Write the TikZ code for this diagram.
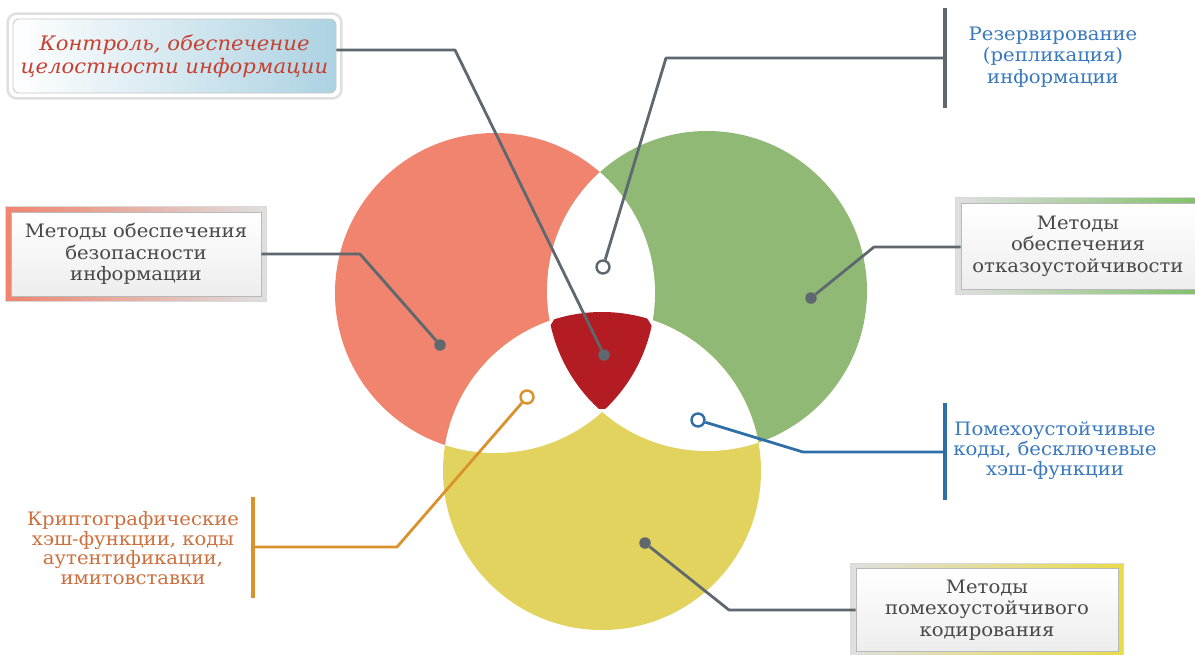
\documentclass[tikz,border=0pt]{standalone}
\usepackage{fontspec}
\setmainfont{DejaVu Serif}[FakeStretch=1.06]
\usetikzlibrary{backgrounds,fit}

\definecolor{salmon}{RGB}{240,132,110}
\definecolor{leaf}{RGB}{143,185,117}
\definecolor{mustard}{RGB}{226,211,94}
\definecolor{crimson}{RGB}{178,28,34}
\definecolor{linegray}{RGB}{94,104,110}
\definecolor{textgray}{RGB}{72,72,72}
\definecolor{skyblue}{RGB}{58,120,189}
\definecolor{deepblue}{RGB}{45,111,166}
\definecolor{amber}{RGB}{218,146,45}
\definecolor{rust}{RGB}{204,112,62}
\definecolor{brick}{RGB}{200,64,48}
\definecolor{pale}{RGB}{172,210,226}

\tikzset{
  lbl/.style={align=center, font=\fontsize{18.5}{21.5}\selectfont, inner sep=0pt},
  box/.style={lbl, text=textgray, draw=gray!55, line width=0.8pt,
    top color=white, bottom color=gray!14, minimum height=84pt},
  frame/.style={draw=gray!30, line width=0.8pt, inner sep=5pt},
  conn/.style={line width=2.8pt, line join=round, draw=linegray},
  bar/.style={line width=3.2pt},
  dot/.style={circle, fill=linegray, inner sep=0pt, minimum size=11.5pt},
  ring/.style={circle, draw, fill=white, line width=2.4pt, inner sep=0pt, minimum size=13pt},
}

\begin{document}
\begin{tikzpicture}[x=1pt,y=-1pt]
\useasboundingbox (0,0) rectangle (1195,654);
\clip (0,0) rectangle (1195,654);
\begin{scope}[on background layer]
  \fill[white] (0,0) rectangle (1195,654);
\end{scope}

% circle centres
\coordinate (cR) at (495,293);
\coordinate (cG) at (707,291);
\coordinate (cY) at (602,471);
\coordinate (cM) at (601,352);

% three coloured discs
\fill[salmon]  (cR) circle[radius=160];
\fill[leaf]    (cG) circle[radius=160];
\fill[mustard] (cY) circle[radius=159];
% pairwise overlaps left blank
\begin{scope}\clip (cR) circle[radius=160]; \fill[white] (cG) circle[radius=160]; \end{scope}
\begin{scope}\clip (cR) circle[radius=160]; \fill[white] (cY) circle[radius=159]; \end{scope}
\begin{scope}\clip (cG) circle[radius=160]; \fill[white] (cY) circle[radius=159]; \end{scope}
% common core, corners softened
\begin{scope}
  \clip (cR) circle[radius=160];
  \clip (cG) circle[radius=160];
  \clip (cY) circle[radius=159];
  \fill[crimson] (cM) circle[radius=57];
\end{scope}

% boxes
\node[lbl, text=brick, font=\fontsize{20}{23}\selectfont\itshape,
      minimum width=323pt, minimum height=74pt, rounded corners=6pt,
      draw=gray!45, line width=0.8pt, left color=white, right color=pale]
      (kbox) at (174.5,56) {Контроль, обеспечение\\целостности информации};
\node[box, minimum width=250pt] (lbox) at (136,254)
      {Методы обеспечения\\безопасности\\информации};
\node[box, minimum width=234pt, minimum height=86pt] (rbox) at (1078,246)
      {Методы\\обеспечения\\отказоустойчивости};
\node[box, minimum width=262pt, minimum height=83pt] (bbox) at (987,610)
      {Методы\\помехоустойчивого\\кодирования};
\begin{scope}[on background layer]
  \node[frame, fit=(kbox), inner sep=5pt, draw=gray!25, line width=2.5pt,
        rounded corners=9pt, fill=white] (kframe) {};
  \node[frame, fit=(lbox), left color=salmon, right color=gray!25] (lframe) {};
  \node[frame, fit=(rbox), left color=gray!25, right color=leaf!90!green] (rframe) {};
  \node[frame, fit=(bbox), left color=gray!25, right color=mustard!80!yellow] (bframe) {};
\end{scope}

% free labels with bars
\node[lbl, text=skyblue] (resv) at (1053,57)
      {Резервирование\\(репликация)\\информации};
\node[lbl, text=skyblue, font=\fontsize{18.5}{20}\selectfont] (pomeh) at (1055,451)
      {Помехоустойчивые\\коды, бесключевые\\хэш-функции};
\node[lbl, text=rust, font=\fontsize{18.5}{19.5}\selectfont] (krypt) at (133,548)
      {Криптографические\\хэш-функции, коды\\аутентификации,\\имитовставки};

\coordinate (gt) at (945,8);   \coordinate (gb) at (945,108);  \coordinate (gm) at (945,58);
\coordinate (bt) at (945,403); \coordinate (bb) at (945,500);  \coordinate (bm) at (945,452);
\coordinate (ot) at (253,497); \coordinate (ob) at (253,598);  \coordinate (om) at (253,547);
\draw[bar, linegray] (gt) -- (gb);
\draw[bar, deepblue] (bt) -- (bb);
\draw[bar, amber]    (ot) -- (ob);

% markers
\node[dot] (dM) at (604,355) {};
\node[dot] (dR) at (440,345) {};
\node[dot] (dG) at (811,298) {};
\node[dot] (dY) at (645,543) {};
\node[ring, draw=linegray] (oRG) at (603,267) {};
\node[ring, draw=deepblue] (oGY) at (698,420) {};
\node[ring, draw=amber]    (oRY) at (527,397) {};

% leader lines
\coordinate (kc) at (455,50);
\coordinate (lc) at (360,254);
\coordinate (rc) at (874,247);
\coordinate (yc) at (729,610);
\coordinate (gc) at (666,58);
\coordinate (bc) at (803,452);
\coordinate (oc) at (397,547);
\draw[conn] (kbox.east |- kc) -- (kc) -- (dM);
\draw[conn] (lbox.east |- lc) -- (lc) -- (dR);
\draw[conn] (rbox.west |- rc) -- (rc) -- (dG);
\draw[conn] (bbox.west |- yc) -- (yc) -- (dY);
\draw[conn] (gm) -- (gc) -- (oRG);
\draw[conn, deepblue] (bm) -- (bc) -- (oGY);
\draw[conn, amber] (om) -- (oc) -- (oRY);
\end{tikzpicture}
\end{document}
